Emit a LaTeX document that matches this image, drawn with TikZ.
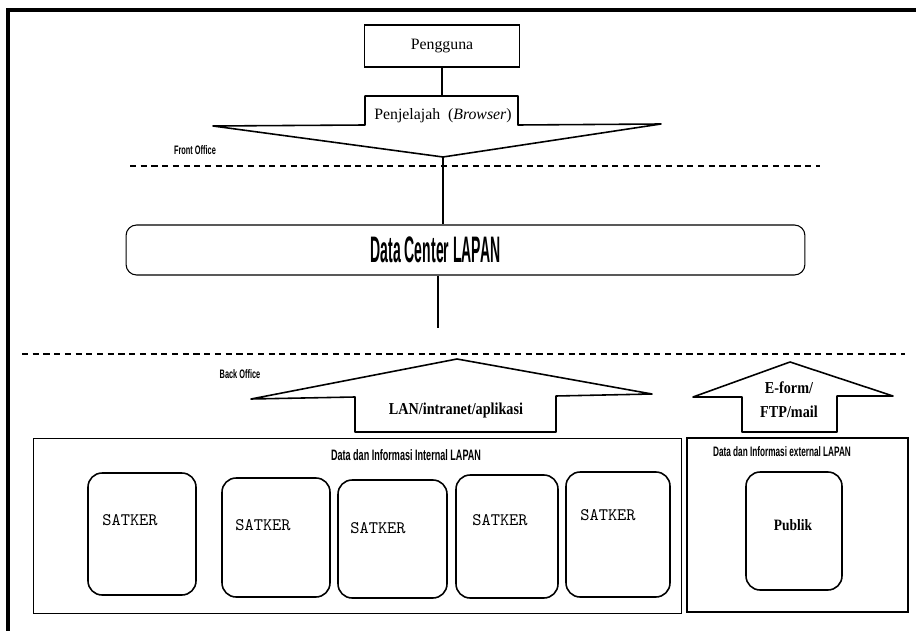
\documentclass[tikz,border=0pt]{standalone}
\usepackage{fontspec}
\setmainfont{Liberation Serif}
\newfontfamily\condfont[FakeStretch=0.38]{Liberation Sans}
\newfontfamily\narrowfont[FakeStretch=0.6]{Liberation Sans}
\newfontfamily\serifnarrow[FakeStretch=0.85]{Liberation Serif}
\usetikzlibrary{positioning}

\begin{document}
\begin{tikzpicture}[x=0.02cm,y=-0.02cm,
  font=\fontsize{9}{10}\selectfont,
  frame/.style={line width=2.4pt},
  divider/.style={line width=1pt,dash pattern=on 3.5pt off 2.6pt},
  outline/.style={draw,line width=0.9pt,line join=round},
  unitbox/.style={draw,line width=0.9pt,rounded corners=8pt,inner sep=0pt},
  tag/.style={font=\narrowfont\bfseries\fontsize{7}{8}\selectfont}]

\useasboundingbox (0,0) rectangle (916,631);

% bingkai
\draw[frame] (916,10) -- (8,10) -- (8,631);

% front office
\node[draw,line width=0.6pt,minimum width=3.1cm,minimum height=0.84cm] (user) at (442,46) {Pengguna};
\draw[outline] (365,96) -- (518,96) -- (518,125) -- (661,124) -- (443,157) -- (213,126) -- (365,125) -- cycle;
\node (browser) at (443,116) {Penjelajah~ (\emph{Browser})};
\coordinate (brwtop) at (442,96);
\coordinate (brwtip) at (443,157);
\draw[line width=0.8pt] (user) -- (brwtop);

\draw[divider] (130,166) -- (820,166);
\node[tag] (front) at (195,150) {Front Office};

% data center
\node[draw,line width=0.6pt,rounded corners=6pt,minimum width=13.58cm,minimum height=1cm,
  label={[xshift=-0.6cm,font=\condfont\bfseries\fontsize{21}{22}\selectfont]center:Data Center LAPAN}] (dc) at (465.5,250) {};
\draw[line width=1pt] (brwtip) -- (brwtip |- dc.north);
\coordinate (lanend) at (438,328);
\draw[line width=1pt] (lanend |- dc.south) -- (lanend);

% back office
\draw[divider] (22,354) -- (905,354);
\node[tag] (back) at (240,374) {Back Office};

\draw[outline] (457,359) -- (652,394) -- (556,396) -- (556,432) -- (355,432) -- (355,397) -- (251,399) -- cycle;
\node[font=\serifnarrow\bfseries\fontsize{9.5}{10}\selectfont] (lan) at (456,410) {LAN/intranet/aplikasi};
\draw[outline] (790,362) -- (893,396) -- (837,396) -- (837,432) -- (742,432) -- (742,397) -- (693,397) -- cycle;
\node[font=\serifnarrow\bfseries\fontsize{9.5}{13.5}\selectfont,align=center] (eform) at (789,400) {E-form/\\FTP/mail};

% panel data
\node[draw,thin,minimum width=12.96cm,minimum height=3.5cm] (internal) at (357,525.5) {};
\node[draw,line width=0.9pt,minimum width=4.42cm,minimum height=3.48cm] (external) at (797.5,525) {};
\node[tag,font=\narrowfont\bfseries\fontsize{8.6}{9}\selectfont] (inttitle) at (406,455) {Data dan Informasi Internal LAPAN};
\node[tag,font=\narrowfont\bfseries\fontsize{7.8}{8}\selectfont] (exttitle) at (782,452) {Data dan Informasi external LAPAN};

\foreach \nm/\cx/\cy/\w/\h/\dx/\dy/\txt in {
  sk1/142/534/2.16/2.44/-0.24/0.28/SATKER,
  sk2/276/537.5/2.16/2.38/-0.26/0.25/SATKER,
  sk3/392.5/539/2.18/2.36/-0.29/0.22/SATKER,
  sk4/507/536.5/2.04/2.46/-0.14/0.33/SATKER,
  sk5/618/534.5/2.08/2.5/-0.2/0.39/SATKER}
  \node[unitbox,minimum width=\w cm,minimum height=\h cm,
    label={[xshift=\dx cm,yshift=\dy cm,font=\ttfamily\fontsize{10}{10}\selectfont]center:\txt}] (\nm) at (\cx,\cy) {};

\node[unitbox,minimum width=1.92cm,minimum height=2.36cm,
  label={[xshift=-0.02cm,yshift=0.12cm,font=\serifnarrow\bfseries\fontsize{9}{10}\selectfont]center:Publik}] (publik) at (794,531) {};
\end{tikzpicture}
\end{document}
